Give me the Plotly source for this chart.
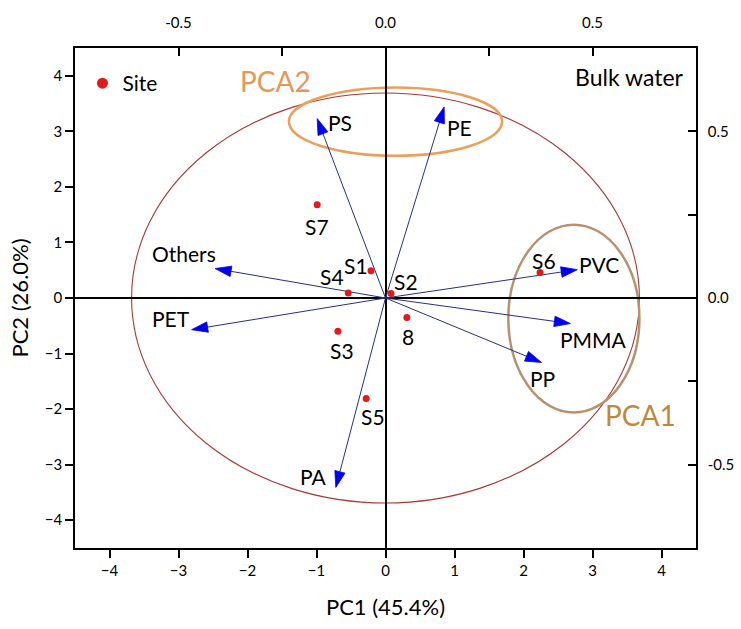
import plotly.graph_objects as go

# ---- data ----
variables = ["PS", "PE", "Others", "PET", "PA", "PVC", "PMMA", "PP"]
load_pc1 = [-0.99, 0.85, -2.47, -2.81, -0.72, 2.78, 2.68, 2.26]
load_pc2 = [3.23, 3.44, 0.53, -0.57, -3.41, 0.51, -0.46, -1.16]

sites = ["S7", "S1", "S4", "S2", "S3", "S5", "8", "S6"]
site_pc1 = [-0.99, -0.21, -0.54, 0.08, -0.69, -0.28, 0.31, 2.24]
site_pc2 = [1.68, 0.49, 0.09, 0.08, -0.60, -1.81, -0.35, 0.46]

x_ticks = [-4, -3, -2, -1, 0, 1, 2, 3, 4]
y_ticks = [-4, -3, -2, -1, 0, 1, 2, 3, 4]

# label offsets in px (style)
var_off = {"PS": (23, -4), "PE": (15, -21), "Others": (-31, 15), "PET": (-21, 11),
           "PA": (-22, 11), "PVC": (22, 5), "PMMA": (23, -16), "PP": (1, -16)}
site_off = {"S7": (0, -22), "S1": (-15, 5), "S4": (-16, 17), "S2": (15, 12),
            "S3": (4, -19), "S5": (7, -18), "8": (1, -19), "S6": (4, 12)}

FONT = "Lato"
NAVY = "#25307f"
BLUE = "#0000ee"
RED = "#e31a1a"

fig = go.Figure()

# loading arrows
for name, lx, ly in zip(variables, load_pc1, load_pc2):
    fig.add_trace(go.Scatter(
        x=[0, lx], y=[0, ly], mode="lines+markers",
        line=dict(color=NAVY, width=1),
        marker=dict(symbol="arrow", size=[0, 17], color=BLUE, opacity=1,
                    angleref="previous", line=dict(width=0.8, color=BLUE)),
        showlegend=False, hoverinfo="skip"))

# site points
fig.add_trace(go.Scatter(
    x=site_pc1, y=site_pc2, mode="markers",
    marker=dict(color=RED, size=7), showlegend=False, name="Site"))
# legend entry
fig.add_trace(go.Scatter(
    x=[None], y=[None], mode="markers", name="Site",
    marker=dict(color=RED, size=11), showlegend=True))

# secondary axes carriers
fig.add_trace(go.Scatter(x=[None], y=[None], xaxis="x2", yaxis="y2",
                         showlegend=False, hoverinfo="skip"))

annotations = []
for name, lx, ly in zip(variables, load_pc1, load_pc2):
    dx, dy = var_off[name]
    annotations.append(dict(x=lx, y=ly, text=name, showarrow=False,
                            xshift=dx, yshift=dy,
                            font=dict(family=FONT, size=21, color="black")))
for name, sx, sy in zip(sites, site_pc1, site_pc2):
    dx, dy = site_off[name]
    annotations.append(dict(x=sx, y=sy, text=name, showarrow=False,
                            xshift=dx, yshift=dy,
                            font=dict(family=FONT, size=21, color="black")))

annotations += [
    dict(x=-1.59, y=3.91, text="PCA2", showarrow=False,
         font=dict(family=FONT, size=28, color="#e8955a")),
    dict(x=3.70, y=-2.1, text="PCA1", showarrow=False,
         font=dict(family=FONT, size=28, color="#c0893a")),
    dict(x=4.36, y=3.97, text="Bulk water", showarrow=False, xanchor="right",
         font=dict(family=FONT, size=23, color="black")),
]

shapes = [
    dict(type="circle", xref="x", yref="y", x0=-3.68, x1=3.68, y0=-3.69, y1=3.69,
         line=dict(color="#a83a34", width=1.1), layer="below"),
    dict(type="circle", xref="x", yref="y", x0=-1.40, x1=1.69, y0=2.56, y1=3.79,
         line=dict(color="#eaa05a", width=2.5), layer="below"),
    dict(type="circle", xref="x", yref="y", x0=1.78, x1=3.68, y0=-2.06, y1=1.32,
         line=dict(color="#b8916f", width=2.5), layer="below"),
]

tickfont = dict(family=FONT, size=15, color="black")

fig.update_layout(
    width=741, height=629,
    margin=dict(l=75, r=45, t=48, b=81, autoexpand=False),
    plot_bgcolor="white", paper_bgcolor="white",
    font=dict(family=FONT, color="black"),
    annotations=annotations, shapes=shapes,
    showlegend=True,
    legend=dict(x=0.012, y=0.97, xanchor="left", yanchor="top",
                bgcolor="rgba(0,0,0,0)", font=dict(family=FONT, size=21),
                itemwidth=30),
    xaxis=dict(range=[-4.5, 4.5], tickvals=x_ticks, ticks="outside", ticklen=8,
               tickwidth=1.5, tickcolor="black", showline=True, linecolor="black",
               linewidth=1.5, showgrid=False, zeroline=True, zerolinecolor="black",
               zerolinewidth=1.5, tickfont=tickfont, automargin=False,
               title=dict(text="PC1 (45.4%)", font=dict(family=FONT, size=22),
                          standoff=22)),
    yaxis=dict(range=[-4.5, 4.5], tickvals=y_ticks, ticks="outside", ticklen=8,
               tickwidth=1.5, tickcolor="black", showline=True, linecolor="black",
               linewidth=1.5, showgrid=False, zeroline=True, zerolinecolor="black",
               zerolinewidth=1.5, tickfont=tickfont, automargin=False,
               title=dict(text="PC2 (26.0%)", font=dict(family=FONT, size=22),
                          standoff=10)),
    xaxis2=dict(range=[-0.75, 0.75], overlaying="x", side="top", anchor="y",
                tickvals=[-0.5, 0.0, 0.5], ticktext=["-0.5", "0.0", "0.5"],
                ticks="inside", ticklen=8, tickwidth=1.5, tickcolor="black",
                minor=dict(tickvals=[-0.25, 0.25], ticks="inside", ticklen=8,
                           tickwidth=1.5, tickcolor="black"),
                showline=True, linecolor="black", linewidth=1.5, showgrid=False,
                zeroline=False, tickfont=tickfont, ticklabelstandoff=12,
                automargin=False),
    yaxis2=dict(range=[-0.75, 0.75], overlaying="y", side="right", anchor="x",
                tickvals=[-0.5, 0.0, 0.5], ticktext=["-0.5", "0.0", "0.5"],
                ticks="inside", ticklen=8, tickwidth=1.5, tickcolor="black",
                minor=dict(tickvals=[-0.25, 0.25], ticks="inside", ticklen=8,
                           tickwidth=1.5, tickcolor="black"),
                showline=True, linecolor="black", linewidth=1.5, showgrid=False,
                zeroline=False, tickfont=tickfont, ticklabelstandoff=7,
                automargin=False),
)

fig.write_html("out.html")
